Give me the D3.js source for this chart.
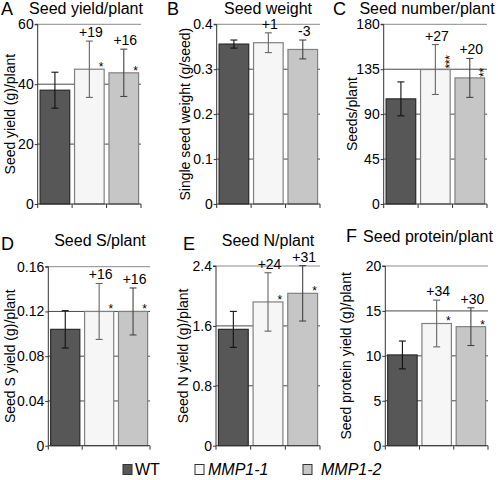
<!DOCTYPE html>
<html><head><meta charset="utf-8">
<script src="https://cdn.jsdelivr.net/npm/d3@7"></script>
<style>
body{margin:0;background:#fff;}
text{font-family:"Liberation Sans",Arial,sans-serif;fill:#000;}
</style></head>
<body><svg id="c" width="498" height="480"></svg>
<script>
const categories = ["WT", "MMP1-1", "MMP1-2"];
const panelLetters = ["A", "B", "C", "D", "E", "F"];
const panelTitles = ["Seed yield/plant", "Seed weight", "Seed number/plant", "Seed S/plant", "Seed N/plant", "Seed protein/plant"];
const yLabels = ["Seed yield (g)/plant", "Single seed weight (g/seed)", "Seeds/plant", "Seed S yield (g)/plant", "Seed N yield (g)/plant", "Seed protein yield (g)/plant"];
const yTicks = [
  [0, 20, 40, 60],
  [0, 0.1, 0.2, 0.3, 0.4],
  [0, 45, 90, 135, 180],
  [0, 0.04, 0.08, 0.12, 0.16],
  [0, 0.8, 1.6, 2.4],
  [0, 5, 10, 15, 20]
];
const yTickLabels = [
  ["0", "20", "40", "60"],
  ["0", "0.1", "0.2", "0.3", "0.4"],
  ["0", "45", "90", "135", "180"],
  ["0", "0.04", "0.08", "0.12", "0.16"],
  ["0", "0.8", "1.6", "2.4"],
  ["0", "5", "10", "15", "20"]
];
const means = [
  [38, 45, 43.8],
  [0.356, 0.359, 0.344],
  [105.3, 134.7, 126.3],
  [0.104, 0.120, 0.120],
  [1.554, 1.92, 2.035],
  [10.1, 13.6, 13.25]
];
const errors = [
  [6, 9.4, 7.9],
  [0.009, 0.022, 0.021],
  [17, 25, 19.5],
  [0.0167, 0.025, 0.021],
  [0.24, 0.39, 0.37],
  [1.55, 2.6, 2.1]
];
const changes = [
  ["", "+19", "+16"],
  ["", "+1", "-3"],
  ["", "+27", "+20"],
  ["", "+16", "+16"],
  ["", "+24", "+31"],
  ["", "+34", "+30"]
];
const stars = [
  ["", "*", "*"],
  ["", "", ""],
  ["", "***", "**"],
  ["", "*", "*"],
  ["", "*", "*"],
  ["", "*", "*"]
];

// layout (positions / styling)
const layout = [
  {l: 37.7, r: 141, t: 24.3, b: 204, letterX: 1, letterY: 15, titleX: 86, titleY: 14, ylx: 10},
  {l: 216.7, r: 320, t: 24.3, b: 204, letterX: 167, letterY: 15, titleX: 268, titleY: 14, ylx: 184.5},
  {l: 383.7, r: 487, t: 24.3, b: 204, letterX: 333, letterY: 15, titleX: 427, titleY: 14, ylx: 352},
  {l: 48.3, r: 150, t: 266.7, b: 445.7, letterX: 1, letterY: 250, titleX: 100, titleY: 246, ylx: 9.5},
  {l: 216, r: 320, t: 266, b: 445.7, letterX: 183, letterY: 250, titleX: 268, titleY: 246, ylx: 183},
  {l: 385.3, r: 488, t: 266, b: 445.7, letterX: 346, letterY: 242, titleX: 428, titleY: 242, ylx: 346}
];
const fills = ["#575757", "#f6f6f6", "#c6c6c6"];
const strokes = ["#2a2a2a", "#808080", "#808080"];
const errColors = ["#111", "#666", "#444"];

const svg = d3.select("#c");

layout.forEach((L, p) => {
  const g = svg.append("g");
  const x = d3.scaleBand().domain(categories).range([L.l, L.r]).paddingInner(0.14).paddingOuter(0.07);
  const ticks = yTicks[p];
  const y = d3.scaleLinear().domain([0, ticks[ticks.length - 1]]).range([L.b, L.t]);

  // gridlines
  g.selectAll("line.grid").data(ticks.slice(1)).join("line")
    .attr("x1", L.l).attr("x2", L.r)
    .attr("y1", d => y(d)).attr("y2", d => y(d))
    .attr("stroke", (d, i) => i === ticks.length - 2 ? "#8a8a8a" : "#4a4a4a")
    .attr("stroke-width", 1);

  // bars
  g.selectAll("rect.bar").data(means[p]).join("rect")
    .attr("x", (d, i) => x(categories[i]))
    .attr("width", x.bandwidth())
    .attr("y", d => y(d))
    .attr("height", d => L.b - y(d))
    .attr("fill", (d, i) => fills[i])
    .attr("stroke", (d, i) => strokes[i])
    .attr("stroke-width", 1.2);

  // error bars
  means[p].forEach((m, i) => {
    const cx = x(categories[i]) + x.bandwidth() / 2;
    const e = errors[p][i];
    const eg = g.append("g").attr("stroke", errColors[i]).attr("stroke-width", 1.1);
    eg.append("line").attr("x1", cx).attr("x2", cx).attr("y1", y(m - e)).attr("y2", y(m + e));
    eg.append("line").attr("x1", cx - 3.5).attr("x2", cx + 3.5).attr("y1", y(m - e)).attr("y2", y(m - e));
    eg.append("line").attr("x1", cx - 3.5).attr("x2", cx + 3.5).attr("y1", y(m + e)).attr("y2", y(m + e));
    if (changes[p][i]) {
      g.append("text").attr("x", cx + 1.5).attr("y", y(m + e) - 4)
        .attr("text-anchor", "middle").attr("font-size", 14).text(changes[p][i]);
    }
    const s = stars[p][i];
    if (s) {
      const sx = x(categories[i]) + x.bandwidth() - 3;
      const top = y(m);
      if (s.length === 1) {
        g.append("text").attr("x", sx).attr("y", top - 5 + 6.9)
          .attr("text-anchor", "middle").attr("font-size", 12).text(s);
      } else {
        g.append("text").attr("transform", `translate(${sx + 6.9},${top - 1}) rotate(-90)`)
          .attr("text-anchor", "start").attr("font-size", 12).attr("letter-spacing", -0.3).text(s);
      }
    }
  });

  // y axis
  const yAxis = d3.axisLeft(y).tickValues(ticks).tickSize(3).tickPadding(1)
    .tickFormat((d, i) => yTickLabels[p][i]);
  const ya = g.append("g").attr("transform", `translate(${L.l},0)`).call(yAxis);
  ya.select(".domain").attr("stroke", "#333").attr("d", `M-3,${L.t}H0V${L.b}`);
  ya.selectAll(".tick line").attr("stroke", "#333");
  ya.selectAll(".tick text").attr("font-size", 14).attr("font-family", "Liberation Sans, Arial, sans-serif").attr("fill", "#000");

  // x axis (ticks at band boundaries)
  const step = x.step();
  const x0 = L.l;
  const bounds = d3.range(categories.length + 1).map(i => i === categories.length ? L.r : x0 + i * step);
  g.append("line").attr("x1", L.l).attr("x2", L.r).attr("y1", L.b).attr("y2", L.b).attr("stroke", "#333");
  g.selectAll("line.xt").data(bounds).join("line")
    .attr("x1", d => d).attr("x2", d => d).attr("y1", L.b).attr("y2", L.b + 4).attr("stroke", "#333");

  // y label
  g.append("text").attr("transform", `translate(${L.ylx},${(L.t + L.b) / 2}) rotate(-90)`)
    .attr("text-anchor", "middle").attr("dominant-baseline", "central")
    .attr("font-size", 14).text(yLabels[p]);

  // title and letter
  g.append("text").attr("x", L.titleX).attr("y", L.titleY).attr("text-anchor", "middle")
    .attr("font-size", 16).text(panelTitles[p]);
  g.append("text").attr("x", L.letterX).attr("y", L.letterY).attr("font-size", 18).text(panelLetters[p]);
});

// legend
const legendBoxX = [123, 195, 303];
const legendTextX = [135, 208, 321];
const lg = svg.append("g");
categories.forEach((c, i) => {
  lg.append("rect").attr("x", legendBoxX[i]).attr("y", 464.5).attr("width", 9).attr("height", 10)
    .attr("fill", fills[i]).attr("stroke", "#333").attr("stroke-width", 1);
  lg.append("text").attr("x", legendTextX[i]).attr("y", 475).attr("font-size", 16)
    .attr("font-style", i === 0 ? "normal" : "italic").text(c);
});
</script></body></html>
